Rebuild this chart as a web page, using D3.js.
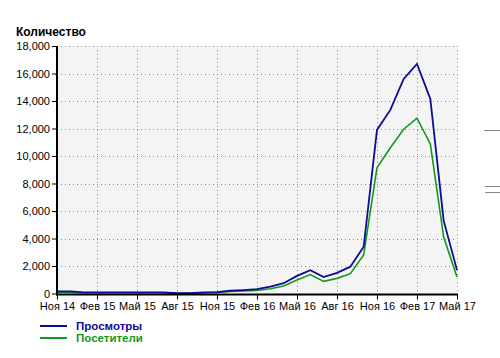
<!DOCTYPE html>
<html><head><meta charset="utf-8">
<script src="https://cdn.jsdelivr.net/npm/d3@7"></script>
<style>body{margin:0;background:#fff;}svg{display:block;font-family:"Liberation Sans",Arial,sans-serif;}</style>
</head><body>
<svg id="c" width="500" height="358"></svg>
<script>
const months = ["Ноя 14","Дек 14","Янв 15","Фев 15","Мар 15","Апр 15","Май 15","Июн 15","Июл 15","Авг 15","Сен 15","Окт 15","Ноя 15","Дек 15","Янв 16","Фев 16","Мар 16","Апр 16","Май 16","Июн 16","Июл 16","Авг 16","Сен 16","Окт 16","Ноя 16","Дек 16","Янв 17","Фев 17","Мар 17","Апр 17","Май 17"];
const views = [150,150,80,80,80,80,80,80,80,20,20,80,100,200,250,320,500,750,1280,1700,1200,1500,1950,3400,11900,13350,15600,16700,14150,5300,1700];
const visitors = [80,80,50,50,50,50,50,50,50,10,10,50,80,150,180,220,350,550,980,1380,880,1100,1440,2800,9150,10600,11950,12750,10880,4100,1200];
const xTickLabels = ["Ноя 14","Фев 15","Май 15","Авг 15","Ноя 15","Фев 16","Май 16","Авг 16","Ноя 16","Фев 17","Май 17"];
const yTicks = [0,2000,4000,6000,8000,10000,12000,14000,16000,18000];
const seriesNames = ["Просмотры","Посетители"];
const colors = ["#0c0c96","#11991a"];

const svg = d3.select("#c");
const L=57, R=457, T=46, B=293.5;
const x = d3.scaleLinear().domain([0, months.length-1]).range([L,R]);
const y = d3.scaleLinear().domain([0,18000]).range([B,T]);

svg.append("rect").attr("x",L).attr("y",T).attr("width",R-L).attr("height",B-T).attr("fill","#f4f4f4");

// gridlines
const tickIdx = xTickLabels.map(l => months.indexOf(l));
svg.append("g").selectAll("line").data(yTicks.filter(d=>d>0)).join("line")
  .attr("x1",L).attr("x2",R).attr("y1",d=>Math.round(y(d))+0.5).attr("y2",d=>Math.round(y(d))+0.5)
  .attr("stroke","#8a8a8a").attr("stroke-dasharray","1,3");
svg.append("g").selectAll("line").data(tickIdx.filter(i=>i>0)).join("line")
  .attr("x1",i=>Math.round(x(i))+0.5).attr("x2",i=>Math.round(x(i))+0.5).attr("y1",T).attr("y2",B)
  .attr("stroke","#8a8a8a").attr("stroke-dasharray","1,3");

// lines
const line = d3.line().x((d,i)=>x(i)).y(d=>y(d));
svg.append("path").datum(visitors).attr("d",line).attr("fill","none").attr("stroke",colors[1]).attr("stroke-width",1.6);
svg.append("path").datum(views).attr("d",line).attr("fill","none").attr("stroke",colors[0]).attr("stroke-width",1.8);

// y axis
const yAxis = d3.axisLeft(y).tickValues(yTicks).tickSize(5).tickPadding(2).tickFormat(d3.format(","));
const gy = svg.append("g").attr("transform",`translate(${L},0)`).call(yAxis);
gy.select(".domain").remove();
gy.selectAll(".tick line").attr("stroke","#000");
gy.selectAll("text").attr("font-size",11).attr("fill","#000").attr("font-family","'Liberation Sans',Arial,sans-serif");

// x axis
const xAxis = d3.axisBottom(x).tickValues(tickIdx).tickSize(5).tickPadding(3).tickFormat(i=>months[i]);
const gx = svg.append("g").attr("transform",`translate(0,${B+1})`).call(xAxis);
gx.select(".domain").remove();
gx.selectAll(".tick line").attr("stroke","#000");
gx.selectAll("text").attr("font-size",11).attr("fill","#000").attr("font-family","'Liberation Sans',Arial,sans-serif");

svg.append("line").attr("x1",L).attr("x2",L).attr("y1",T).attr("y2",B+2).attr("stroke","#000").attr("stroke-width",2);
svg.append("line").attr("x1",L-1).attr("x2",R+1).attr("y1",B+1).attr("y2",B+1).attr("stroke","#000").attr("stroke-width",2);

// title
svg.append("text").attr("x",16).attr("y",36).attr("font-size",12).attr("font-weight","bold").text("Количество");

// legend
seriesNames.forEach((n,i)=>{
  const yy = 326 + i*12;
  svg.append("line").attr("x1",40).attr("x2",67).attr("y1",yy).attr("y2",yy).attr("stroke",colors[i]).attr("stroke-width",2);
  svg.append("text").attr("x",76).attr("y",yy+4).attr("font-size",11.5).attr("font-weight","bold").attr("fill",colors[i]).text(n);
});

// side marks
[[484,130.5],[485,186.5],[485,192.5]].forEach(([a,b])=>{
  svg.append("line").attr("x1",a).attr("x2",500).attr("y1",b).attr("y2",b).attr("stroke","#888").attr("stroke-width",1);
});
</script>
</body></html>
